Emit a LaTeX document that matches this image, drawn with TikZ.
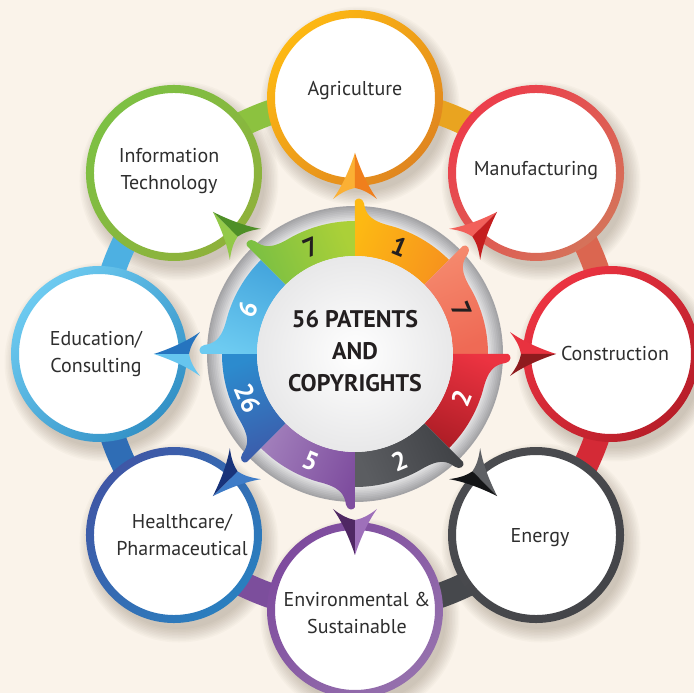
\documentclass[tikz,border=0pt]{standalone}
\usepackage{fontspec}
\setmainfont{PT Sans}
\usetikzlibrary{calc}
\definecolor{bg}{HTML}{FAF3EA}
\definecolor{shad}{HTML}{6B5A45}
\definecolor{labc}{HTML}{2E2E2E}
\definecolor{ctrc}{HTML}{231F20}
\definecolor{gdark}{HTML}{A3A3A6}
\definecolor{glight}{HTML}{E8E8E9}
% bands
\definecolor{bA}{HTML}{E9A420}\definecolor{bB}{HTML}{DB6650}\definecolor{bC}{HTML}{D42A36}\definecolor{bD}{HTML}{46484C}
\definecolor{bE}{HTML}{7C4E9C}\definecolor{bF}{HTML}{2F6DB5}\definecolor{bG}{HTML}{4DB0E2}\definecolor{bH}{HTML}{8CC23F}
% outer rings
\definecolor{rA1}{HTML}{FDB813}\definecolor{rA2}{HTML}{E0861F}
\definecolor{rB1}{HTML}{EC3D4B}\definecolor{rB2}{HTML}{D5735A}
\definecolor{rC1}{HTML}{EB3341}\definecolor{rC2}{HTML}{B81E29}
\definecolor{rD1}{HTML}{4A4B4F}\definecolor{rD2}{HTML}{444549}
\definecolor{rE1}{HTML}{7E4B9E}\definecolor{rE2}{HTML}{9570AD}
\definecolor{rF1}{HTML}{3F57A6}\definecolor{rF2}{HTML}{2A7FBF}
\definecolor{rG1}{HTML}{6DCAF0}\definecolor{rG2}{HTML}{3391C6}
\definecolor{rH1}{HTML}{7DC043}\definecolor{rH2}{HTML}{8FB13B}
% segments
\definecolor{sA1}{HTML}{FDB913}\definecolor{sA2}{HTML}{F7941D}
\definecolor{sB1}{HTML}{F58A6E}\definecolor{sB2}{HTML}{EF6A55}
\definecolor{sC1}{HTML}{EC3341}\definecolor{sC2}{HTML}{B01E27}
\definecolor{sD1}{HTML}{3F4145}\definecolor{sD2}{HTML}{5B5D61}
\definecolor{sE1}{HTML}{7F4E9F}\definecolor{sE2}{HTML}{A07DBA}
\definecolor{sF1}{HTML}{3C5BAA}\definecolor{sF2}{HTML}{2C8BCE}
\definecolor{sG1}{HTML}{6DCBF1}\definecolor{sG2}{HTML}{45A6DD}
\definecolor{sH1}{HTML}{79BF43}\definecolor{sH2}{HTML}{ABD038}
% arrows
\definecolor{aAL}{HTML}{FBB034}\definecolor{aAD}{HTML}{F07F1C}
\definecolor{aBL}{HTML}{F2605A}\definecolor{aBD}{HTML}{C41E1F}
\definecolor{aCL}{HTML}{E8323F}\definecolor{aCD}{HTML}{8E1B1E}
\definecolor{aDL}{HTML}{5E6064}\definecolor{aDD}{HTML}{141517}
\definecolor{aEL}{HTML}{9E70BA}\definecolor{aED}{HTML}{4F2763}
\definecolor{aFL}{HTML}{3E7CC8}\definecolor{aFD}{HTML}{18337A}
\definecolor{aGL}{HTML}{66C5EF}\definecolor{aGD}{HTML}{2674BF}
\definecolor{aHL}{HTML}{93C948}\definecolor{aHD}{HTML}{4E8F27}
\begin{document}
\begin{tikzpicture}[x=1pt,y=1pt,
  lab/.style={font=\fontsize{20}{27}\selectfont, text=labc, align=center, inner sep=0pt},
  numf/.style={font=\bfseries\fontsize{26}{26}\selectfont, inner sep=0pt},
  ctrf/.style={font=\bfseries\fontsize{24}{32}\selectfont, text=ctrc, align=center, inner sep=0pt},
  outc/.style={circle, minimum size=168pt, inner sep=0pt, fill=white},
]
\useasboundingbox (-355,-339) rectangle (339,354);
\fill[bg] (-355,-339) rectangle (339,354);
% soft shadows of the outer circles
\foreach \a in {90,45,0,-45,-90,-135,180,135}{
  \foreach \s in {0,...,9}{
    \fill[shad, opacity=0.03] ($(\a:256)+(5,-8)$) circle ({86+1.5*\s});
  }
}
% connecting bands
\foreach \a/\c in {90/bA,45/bB,0/bC,-45/bD,-90/bE,-135/bF,180/bG,135/bH}{
  \draw[line width=25pt, \c] (\a:256) arc[start angle=\a, end angle=\a-45, radius=256];
}
% outer circles
\foreach \a/\cI/\cII [count=\k from 0] in {90/rA1/rA2,45/rB1/rB2,0/rC1/rC2,-45/rD1/rD2,-90/rE1/rE2,-135/rF1/rF2,180/rG1/rG2,135/rH1/rH2}{
  \node[outc] (c\k) at (\a:256) {};
  \shade[even odd rule, bottom color=\cI, top color=\cII, shading angle=-135] (c\k.center) circle (88) (c\k.center) circle (80);
}
% grey bevel ring
\foreach \i in {0,...,9}{
  \pgfmathsetmacro\r{148-1.7*\i}
  \pgfmathsetmacro\p{\i*11}
  \fill[glight!\p!gdark] (0,0) circle (\r);
}
% coloured segments with flares
\foreach \a/\cI/\cII in {90/sA1/sA2,45/sB1/sB2,0/sC1/sC2,-45/sD1/sD2,-90/sE1/sE2,-135/sF1/sF2,180/sG1/sG2,135/sH1/sH2}{
  \pgfmathsetmacro\sa{\a-202.5}
  \shade[bottom color=\cI, top color=\cII, shading angle=\sa]
    (\a:98) -- (\a:153) .. controls ({\a-0.6}:157) and ({\a-2.8}:156.5) .. ({\a-3.4}:151)
    .. controls ({\a-4.4}:140) and ({\a-6.5}:134) .. ({\a-16}:133)
    arc[start angle=\a-16, end angle=\a-45, radius=133] -- ({\a-45}:98)
    arc[start angle=\a-45, end angle=\a, radius=98] -- cycle;
}
% white centre
\shade[inner color=white, outer color=glight] (0,0) circle (98);
% numbers
\foreach \a/\n/\nc [count=\k from 0] in {90/1/ctrc,45/7/ctrc,0/2/white,-45/2/white,-90/5/white,-135/26/white,180/6/white,135/7/ctrc}{
  \pgfmathsetmacro\th{\a-22.5}
  \pgfmathsetmacro\rot{(\th>0) ? (\th-90) : (\th+90)}
  \node[numf, text=\nc, rotate=\rot] (n\k) at (\th:116) {\n};
}
% dart arrowheads pointing to the outer circles
\foreach \a/\cL/\cD in {90/aAL/aAD,45/aBL/aBD,0/aCL/aCD,-45/aDL/aDD,-90/aEL/aED,-135/aFL/aFD,180/aGL/aGD,135/aHL/aHD}{
  \begin{scope}[rotate=\a]
    \fill[\cL] (201,0) .. controls (186,5) and (169,12) .. (155,22) .. controls (162,13) and (165,6) .. (166,0) -- cycle;
    \fill[\cD] (201,0) .. controls (186,-5) and (169,-12) .. (155,-22) .. controls (162,-13) and (165,-6) .. (166,0) -- cycle;
  \end{scope}
}
% labels
\node[lab] (l0) at (0,263) {Agriculture};
\node[lab] (l1) at (181,183) {Manufacturing};
\node[lab] (l2) at (260,0) {Construction};
\node[lab] (l3) at (185,-184) {Energy};
\node[lab] (l4) at (2,-259) {Environmental \&\\Sustainable};
\node[lab] (l5) at (-173,-181) {Healthcare/\\Pharmaceutical};
\node[lab] (l6) at (-259,0) {Education/\\Consulting};
\node[lab] (l7) at (-186,183) {Information\\Technology};
% centre text
\node[ctrf] (ctr) at (0,3) {56 PATENTS\\AND\\COPYRIGHTS};
\end{tikzpicture}
\end{document}
